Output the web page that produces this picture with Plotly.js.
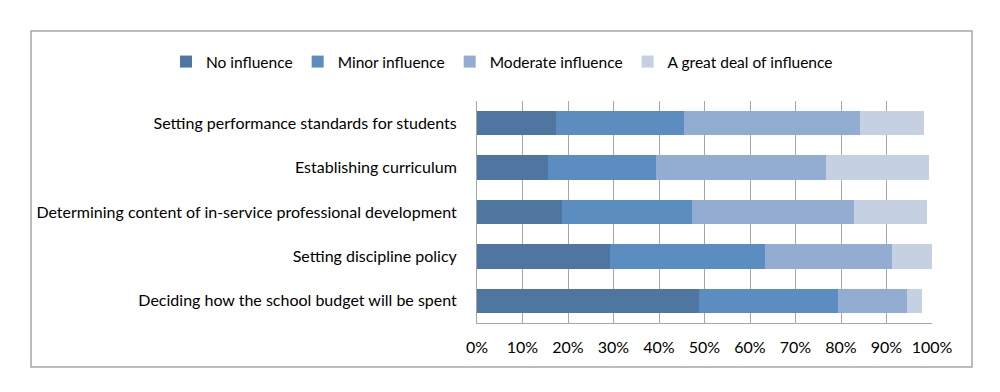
<!DOCTYPE html>
<html>
<head>
<meta charset="utf-8">
<script src="https://cdn.plot.ly/plotly-3.0.1.min.js"></script>
<style>
html,body{margin:0;padding:0;background:#fff;}
#chart{width:1000px;height:392px;}
</style>
</head>
<body>
<div id="chart"></div>
<script>
var categories = [
  "Setting performance standards for students",
  "Establishing curriculum",
  "Determining content of in-service professional development",
  "Setting discipline policy",
  "Deciding how the school budget will be spent"
];
var seriesNames = ["No influence", "Minor influence", "Moderate influence", "A great deal of influence"];
var noInfluence = [17.3, 15.6, 18.6, 29.3, 48.7];
var minorInfluence = [28.1, 23.8, 28.7, 33.9, 30.6];
var moderateInfluence = [38.7, 37.2, 35.5, 28.1, 15.2];
var greatInfluence = [14.1, 22.7, 16.0, 8.7, 3.4];
var tickVals = [0, 10, 20, 30, 40, 50, 60, 70, 80, 90, 100];
var tickLabels = ["0%", "10%", "20%", "30%", "40%", "50%", "60%", "70%", "80%", "90%", "100%"];

var colors = ["#4f75a1", "#5b8dc0", "#93acd1", "#c5d0e3"];
var values = [noInfluence, minorInfluence, moderateInfluence, greatInfluence];
var fontFam = "Lato, 'Open Sans', sans-serif";

var traces = values.map(function(v, i){
  return {
    type: "bar",
    orientation: "h",
    name: seriesNames[i],
    x: v,
    y: categories,
    marker: {color: colors[i], line: {width: 0}},
    hoverinfo: "x+name"
  };
});

var L = 477, R = 68, T = 101, B = 69;
var pw = 1000 - L - R, ph = 392 - T - B;
function px(x){ return (x - L) / pw; }
function py(y){ return (392 - B - y) / ph; }

var layout = {
  width: 1000,
  height: 392,
  barmode: "stack",
  bargap: 0.45,
  margin: {l: L, r: R, t: T, b: B, pad: 0},
  paper_bgcolor: "#ffffff",
  plot_bgcolor: "#ffffff",
  font: {family: fontFam, size: 16, color: "#000000"},
  showlegend: true,
  legend: {
    orientation: "h",
    x: px(166), xanchor: "left",
    y: py(62), yanchor: "middle",
    font: {family: fontFam, size: 15.5, color: "#000"},
    itemwidth: 30,
    traceorder: "normal"
  },
  xaxis: {
    range: [0, 100],
    tickvals: tickVals,
    ticktext: tickLabels,
    showgrid: true,
    gridcolor: "#a6a6a6",
    gridwidth: 1,
    zeroline: false,
    showline: true,
    linecolor: "#a6a6a6",
    mirror: false,
    ticks: "",
    ticklen: 0,
    ticklabelstandoff: 10,
    tickfont: {family: fontFam, size: 16, color: "#000"},
    fixedrange: true
  },
  yaxis: {
    autorange: "reversed",
    showgrid: false,
    zeroline: false,
    showline: true,
    linecolor: "#a6a6a6",
    ticks: "",
    ticklen: 0,
    ticklabelstandoff: 16,
    tickfont: {family: fontFam, size: 16, color: "#000"},
    fixedrange: true
  },
  shapes: [
    {type: "rect", xref: "paper", yref: "paper",
     x0: px(31), x1: px(972), y0: py(367), y1: py(31),
     line: {color: "#a6a6a6", width: 1.5}, fillcolor: "rgba(0,0,0,0)", layer: "below"}
  ]
};

Plotly.newPlot("chart", traces, layout, {displayModeBar: false, staticPlot: true});
</script>
</body>
</html>
